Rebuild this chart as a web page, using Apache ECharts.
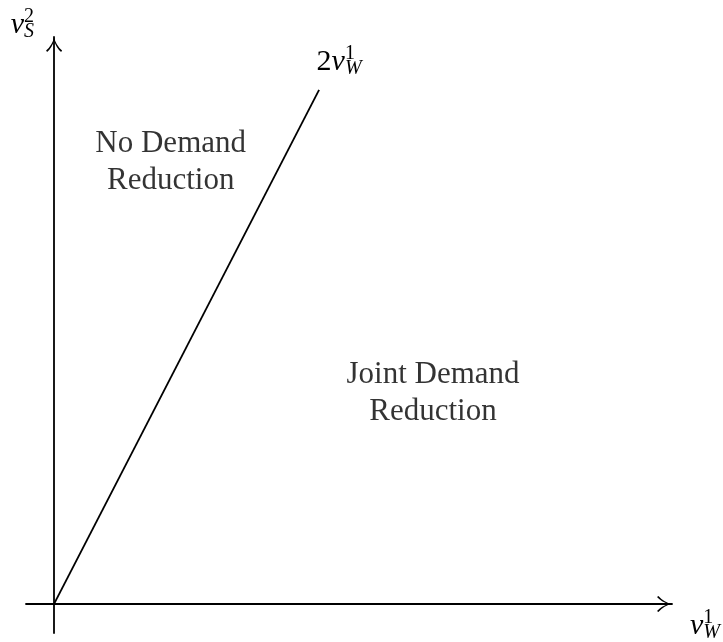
<!DOCTYPE html>
<html>
<head>
<meta charset="utf-8">
<script src="https://cdn.jsdelivr.net/npm/echarts@6/dist/echarts.min.js"></script>
<style>
  html, body { margin: 0; padding: 0; background: #fff; }
  #chart { width: 723px; height: 642px; }
</style>
</head>
<body>
<div id="chart"></div>
<script>
// boundary line v_S^2 = 2 v_W^1
const lineX = [0, 1];
const lineY = [0, 2];

// region captions
const regionNames = ['No Demand\nReduction', 'Joint Demand\nReduction'];
const regionX = [0.44, 1.43];
const regionY = [1.72, 0.82];

// axis extents (axes cross at the origin)
const xRange = [-0.106, 2.332];
const yRange = [-0.113, 2.206];

const serif = 'Liberation Serif';
const mathRich = {
  n: { fontFamily: serif, fontSize: 30, color: '#000', align: 'left' },
  v: { fontFamily: serif, fontStyle: 'italic', fontSize: 30, color: '#000', align: 'left' },
  sup: { fontFamily: serif, fontSize: 20, color: '#000', align: 'left', width: 0, padding: [0, 0, 16, 0] },
  sub: { fontFamily: serif, fontStyle: 'italic', fontSize: 20, color: '#000', align: 'left', padding: [14, 0, 0, 0] }
};

// open arrow head, pointing up (rotated by the axis)
const arrowHead = 'path://M8,0 Q9.6,8 16,13.6 L15,15 Q10,10.5 8,3.4 Q6,10.5 1,15 L0,13.6 Q6.4,8 8,0 Z';

const axisLine = {
  onZero: true,
  symbol: ['none', arrowHead],
  symbolSize: [16, 15],
  symbolOffset: [0, -7.5],
  lineStyle: { color: '#000', width: 1.8 }
};

const chart = echarts.init(document.getElementById('chart'));

const option = {
  animation: false,
  grid: {
    left: 26,
    right: 51,
    top: 37,
    bottom: 9,
    containLabel: false,
    outerBoundsMode: 'none'
  },
  xAxis: {
    type: 'value',
    min: xRange[0],
    max: xRange[1],
    axisLine: axisLine,
    axisTick: { show: false },
    axisLabel: { show: false },
    splitLine: { show: false },
    name: '{v|v}{sup|1}{sub|W}',
    nameLocation: 'end',
    nameGap: 18,
    nameTextStyle: { align: 'left', verticalAlign: 'middle', padding: [44, 0, 0, 0], rich: mathRich }
  },
  yAxis: {
    type: 'value',
    min: yRange[0],
    max: yRange[1],
    axisLine: axisLine,
    axisTick: { show: false },
    axisLabel: { show: false },
    splitLine: { show: false },
    name: '{v|v}{sup|2}{sub|S}',
    nameLocation: 'end',
    nameGap: 12,
    nameTextStyle: { align: 'right', verticalAlign: 'middle', padding: [0, 20, 0, 0], rich: mathRich }
  },
  series: [
    {
      type: 'line',
      silent: true,
      symbol: 'circle',
      symbolSize: 0,
      lineStyle: { color: '#000', width: 1.8 },
      label: { show: false },
      data: lineX.map((x, i) => {
        const item = { value: [x, lineY[i]] };
        if (i === lineX.length - 1) {
          item.label = {
            show: true,
            position: 'top',
            distance: 10,
            offset: [20, 0],
            formatter: '{n|2}{v|v}{sup|1}{sub|W}',
            rich: mathRich
          };
        }
        return item;
      })
    },
    {
      type: 'scatter',
      silent: true,
      symbolSize: 0,
      label: {
        show: true,
        position: 'inside',
        formatter: '{b}',
        fontFamily: serif,
        fontSize: 31,
        lineHeight: 37,
        color: '#000',
        textBorderWidth: 0
      },
      data: regionX.map((x, i) => ({ name: regionNames[i], value: [x, regionY[i]] }))
    }
  ]
};

chart.setOption(option);
</script>
</body>
</html>
